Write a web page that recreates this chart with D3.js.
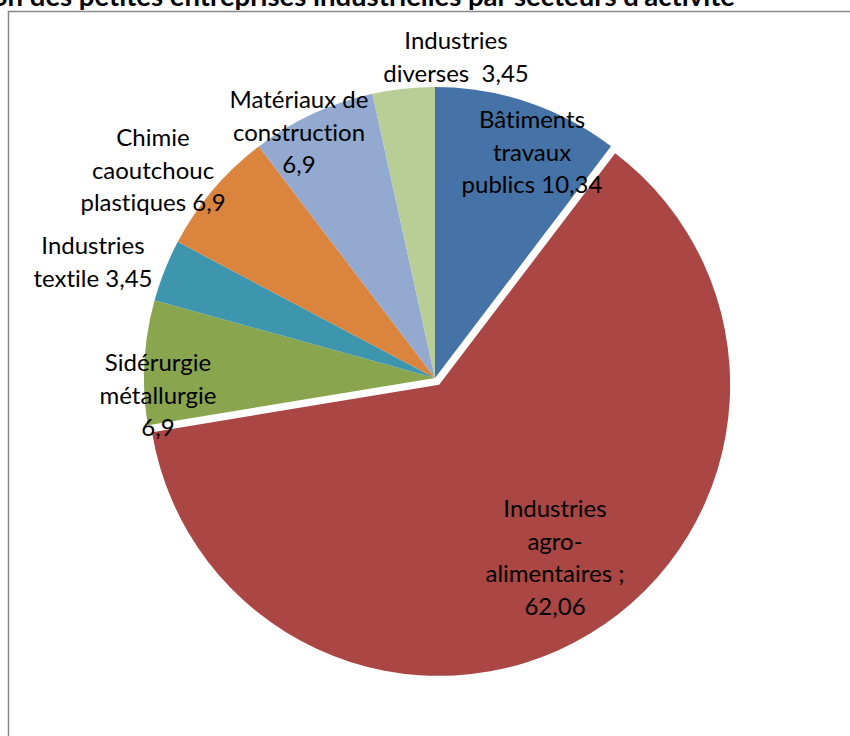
<!DOCTYPE html>
<html><head><meta charset="utf-8">
<script src="https://cdn.jsdelivr.net/npm/d3@7"></script>
<style>body{margin:0;background:#fff}svg{display:block}text{font-variant-ligatures:none;font-feature-settings:"liga" 0,"clig" 0}</style>
</head><body>
<svg id="c" width="850" height="736"></svg>
<script>
const title = "Répartition des petites entreprises industrielles par secteurs d'activité";
const categories = ["Bâtiments travaux publics","Industries agro-alimentaires","Sidérurgie métallurgie","Industries textile","Chimie caoutchouc plastiques","Matériaux de construction","Industries diverses"];
const values = [10.34, 62.06, 6.9, 3.45, 6.9, 6.9, 3.45];
const colors = ["#4572a7","#aa4643","#89a54e","#3d96ae","#db843d","#93a9cf","#b9cd96"];
const labelLines = [
  ["Bâtiments","travaux","publics 10,34"],
  ["Industries","agro-","alimentaires ;","62,06"],
  ["Sidérurgie","métallurgie","6,9"],
  ["Industries","textile 3,45"],
  ["Chimie","caoutchouc","plastiques 6,9"],
  ["Matériaux de","construction","6,9"],
  ["Industries","diverses  3,45"]
];
const exploded = [false,true,false,false,false,false,false];
// label anchor (center of first line) positions
const labelPos = [[532,122],[555,511],[158,365],[93,248],[153,140],[299,102],[456,43]];

const svg = d3.select("#c");
const cx = 435, cy = 378, r = 291, explode = 8, lineH = 32.5;
const font = "Lato, 'Open Sans', sans-serif";

// frame
svg.append("path").attr("d","M8.5,737 V11.5 H851").attr("fill","none").attr("stroke","#878787").attr("stroke-width",1.5);

// title (cut by the top edge, as in the reference)
svg.append("text").attr("x",735).attr("y",6).attr("text-anchor","end")
  .attr("font-family",font).attr("font-weight","bold").attr("font-size",27.5).attr("fill","#000").text(title);

const pie = d3.pie().sort(null).value(d=>d).startAngle(0).endAngle(2*Math.PI);
const arcs = pie(values);
const arc = d3.arc().innerRadius(0).outerRadius(r);
const g = svg.append("g").attr("transform",`translate(${cx},${cy})`);
g.selectAll("path").data(arcs).join("path")
  .attr("d",arc)
  .attr("fill",(d,i)=>colors[i])
  .attr("transform",(d,i)=>{
    if(!exploded[i]) return null;
    const a=(d.startAngle+d.endAngle)/2;
    return `translate(${explode*Math.sin(a)},${-explode*Math.cos(a)})`;
  });

const lg = svg.append("g").attr("font-family",font).attr("font-size",24).attr("fill","#000").attr("text-anchor","middle");
labelLines.forEach((lines,i)=>{
  const t = lg.append("text").attr("x",labelPos[i][0]).attr("y",labelPos[i][1]).attr("dominant-baseline","middle");
  lines.forEach((s,j)=>{
    t.append("tspan").attr("x",labelPos[i][0]).attr("y",labelPos[i][1]+j*lineH).attr("xml:space","preserve").text(s);
  });
});
</script>
</body></html>
